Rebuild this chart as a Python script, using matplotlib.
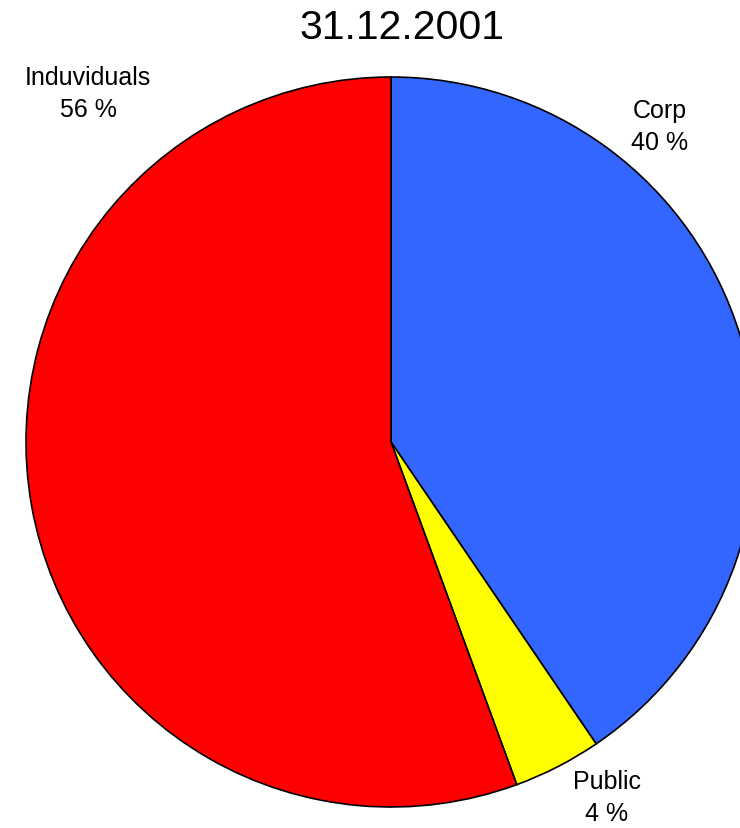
import matplotlib
matplotlib.use("Agg")
import matplotlib.pyplot as plt

plt.rcParams['font.family'] = ['Liberation Sans', 'DejaVu Sans']

# data (clockwise from 12 o'clock)
labels = ["Corp", "Public", "Induviduals"]
values = [40.5, 3.9, 55.6]
pct_text = ["40 %", "4 %", "56 %"]
colors = ["#3366FF", "#FFFF00", "#FF0000"]

W, H = 740, 829
fig = plt.figure(figsize=(W / 100, H / 100), dpi=100)
ax = fig.add_axes([0, 0, 1, 1])

ax.pie(values, colors=colors, startangle=90, counterclock=False,
       center=(391, H - 443), radius=365,
       wedgeprops=dict(edgecolor="black", linewidth=1.2))

ax.set_xlim(0, W)
ax.set_ylim(0, H)
ax.set_aspect('equal')
ax.axis('off')

# label positions (pixels from top-left)
label_pos = [(660, 127), (607, 798), (88, 94)]
for lab, pt, (px, py) in zip(labels, pct_text, label_pos):
    ax.text(px, H - py, lab + "\n" + pt, ha="center", va="center",
            fontsize=18, linespacing=1.4)

ax.text(402, H - 28, "31.12.2001", ha="center", va="center", fontsize=29.5)

fig.savefig("out.png", dpi=100)
